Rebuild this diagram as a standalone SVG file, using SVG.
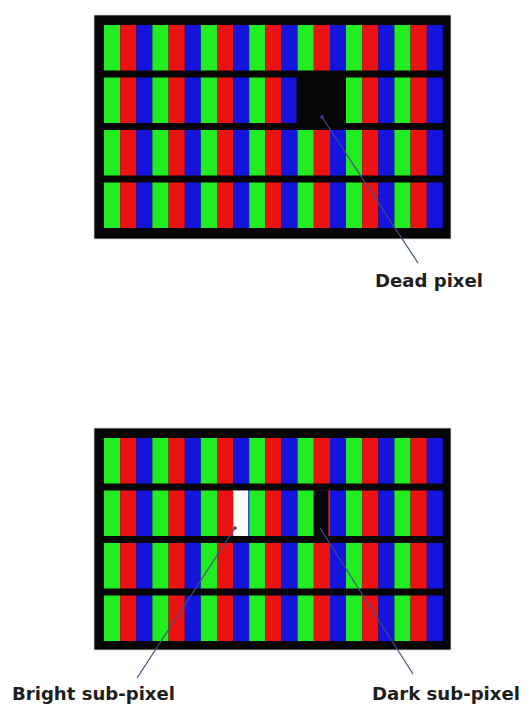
<svg xmlns="http://www.w3.org/2000/svg" xmlns:xlink="http://www.w3.org/1999/xlink" width="529" height="704" viewBox="0 0 529 704">
  <style>
    .frame { fill: #050505; stroke: #d8d8d8; stroke-width: 0.8; }
    .g { fill: #22ec22; }
    .r { fill: #ec1212; }
    .b { fill: #1414dc; }
    .lead { stroke: #3d5183; stroke-width: 1.2; fill: none; }
    .dot { fill: #3a3ab0; }
    .lbl { font-family: "DejaVu Sans", "Liberation Sans", sans-serif; font-weight: bold; font-size: 17px; fill: #1e1e1e; }
  </style>
  <defs>
    <g id="px">
      <rect class="g" x="0" y="0" width="16.2" height="45.5"/>
      <rect class="r" x="16.2" y="0" width="16.2" height="45.5"/>
      <rect class="b" x="32.4" y="0" width="16" height="45.5"/>
    </g>
    <g id="row">
      <use xlink:href="#px" x="0"/>
      <use xlink:href="#px" x="48.4"/>
      <use xlink:href="#px" x="96.8"/>
      <use xlink:href="#px" x="145.2"/>
      <use xlink:href="#px" x="193.6"/>
      <use xlink:href="#px" x="242"/>
      <use xlink:href="#px" x="290.4"/>
    </g>
    <g id="grid">
      <use xlink:href="#row" y="0"/>
      <use xlink:href="#row" y="52.5"/>
      <use xlink:href="#row" y="105"/>
      <use xlink:href="#row" y="157.5"/>
    </g>
  </defs>

  <g id="panel-dead">
    <rect class="frame" x="94" y="15" width="357" height="224"/>
    <use xlink:href="#grid" x="104" y="25"/>
    <rect id="dead-pixel" x="296.5" y="73" width="49.5" height="53" fill="#050505"/>
  </g>

  <g id="panel-subpixel">
    <rect class="frame" x="94" y="428" width="357" height="222"/>
    <use xlink:href="#grid" x="104" y="438"/>
    <rect id="bright-subpixel" x="233.2" y="490.5" width="15" height="45.5" fill="#ffffff"/>
    <rect id="dark-subpixel" x="313.8" y="490.5" width="14.5" height="45.5" fill="#050505"/>
  </g>

  <g id="connectors">
    <line class="lead" x1="322" y1="117" x2="418" y2="263"/>
    <circle class="dot" cx="322" cy="117" r="1.8"/>
    <line class="lead" x1="235" y1="528" x2="137" y2="678"/>
    <circle class="dot" cx="235" cy="528" r="1.8"/>
    <line class="lead" x1="320" y1="528" x2="413" y2="674"/>
  </g>

  <g id="label-dead">
    <text class="lbl" x="375" y="287" textLength="108" lengthAdjust="spacingAndGlyphs">Dead pixel</text>
  </g>
  <g id="label-bright">
    <text class="lbl" x="12" y="700" textLength="163" lengthAdjust="spacingAndGlyphs">Bright sub-pixel</text>
  </g>
  <g id="label-dark">
    <text class="lbl" x="372" y="700" textLength="148" lengthAdjust="spacingAndGlyphs">Dark sub-pixel</text>
  </g>
</svg>
